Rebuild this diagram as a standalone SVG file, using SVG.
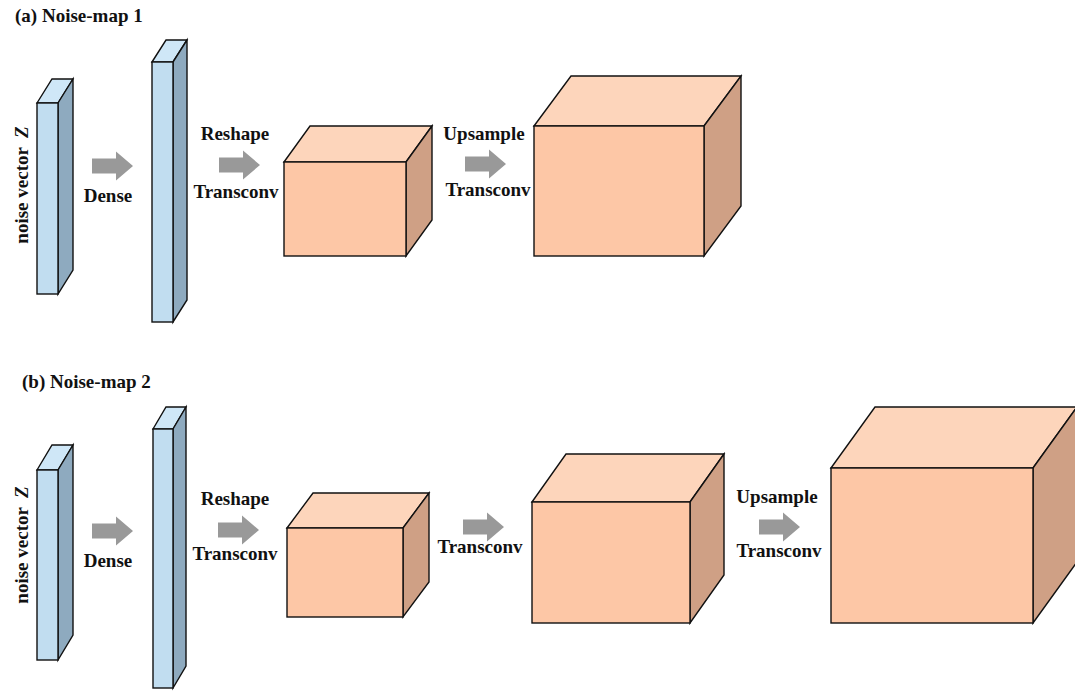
<svg xmlns="http://www.w3.org/2000/svg" xmlns:xlink="http://www.w3.org/1999/xlink" width="1075" height="691" viewBox="0 0 1075 691">
  <style>
    .lbl { font-family: "Liberation Serif", "Times New Roman", serif; font-weight: bold; font-size: 19px; fill: #111; }
    .mid { text-anchor: middle; }
    .edge { stroke: #111; stroke-width: 1.4; stroke-linejoin: miter; }
    .bar-front { fill: #c1ddf0; }
    .bar-top { fill: #cfe7f7; }
    .bar-side { fill: #8eaabf; }
    .box-front { fill: #fdc7a6; }
    .box-top { fill: #fdd5bb; }
    .box-side { fill: #cfa085; }
    .flow { fill: #999999; }
  </style>
  <defs>
    <!-- block arrow, origin at left end of the shaft centre line -->
    <path id="blockArrow" class="flow" d="M0,-7.5 H24 V-14.5 L41,0 L24,14.5 V7.5 H0 Z"/>
  </defs>
  <rect width="1075" height="691" fill="#ffffff"/>

  <!-- ===== (a) Noise-map 1 ===== -->
  <text class="lbl" x="15" y="22">(a) Noise-map 1</text>

  <g id="a-noise-vector">
    <polygon class="bar-top edge" points="37,103 52,79 73,79 58,103"/>
    <polygon class="bar-side edge" points="58,103 73,79 73,270 58,294"/>
    <rect class="bar-front edge" x="37" y="103" width="21" height="191"/>
    <text class="lbl mid" transform="translate(28,185) rotate(-90)" xml:space="preserve">noise vector  <tspan font-style="italic">Z</tspan></text>
  </g>

  <g id="a-dense-vector">
    <polygon class="bar-top edge" points="152,62 166,40 187,40 173,62"/>
    <polygon class="bar-side edge" points="173,62 187,40 187,300 173,322"/>
    <rect class="bar-front edge" x="152" y="62" width="21" height="260"/>
  </g>

  <g id="a-feature-map-1">
    <polygon class="box-top edge" points="284,162 310,126 432,126 406,162"/>
    <polygon class="box-side edge" points="406,162 432,126 432,220 406,256"/>
    <rect class="box-front edge" x="284" y="162" width="122" height="94"/>
  </g>

  <g id="a-feature-map-2">
    <polygon class="box-top edge" points="534,126 571,76 741,76 704,126"/>
    <polygon class="box-side edge" points="704,126 741,76 741,206 704,256"/>
    <rect class="box-front edge" x="534" y="126" width="170" height="130"/>
  </g>

  <g id="a-connectors">
    <use xlink:href="#blockArrow" transform="translate(92,166)"/>
    <text class="lbl mid" x="108" y="202">Dense</text>
    <use xlink:href="#blockArrow" transform="translate(219,165)"/>
    <text class="lbl mid" x="235" y="140">Reshape</text>
    <text class="lbl mid" x="236" y="198">Transconv</text>
    <use xlink:href="#blockArrow" transform="translate(465,164)"/>
    <text class="lbl mid" x="484" y="140">Upsample</text>
    <text class="lbl mid" x="488" y="196">Transconv</text>
  </g>

  <!-- ===== (b) Noise-map 2 ===== -->
  <text class="lbl" x="22" y="388">(b) Noise-map 2</text>

  <g id="b-noise-vector">
    <polygon class="bar-top edge" points="37,470 52,445 73,445 58,470"/>
    <polygon class="bar-side edge" points="58,470 73,445 73,635 58,660"/>
    <rect class="bar-front edge" x="37" y="470" width="21" height="190"/>
    <text class="lbl mid" transform="translate(28,545) rotate(-90)" xml:space="preserve">noise vector  <tspan font-style="italic">Z</tspan></text>
  </g>

  <g id="b-dense-vector">
    <polygon class="bar-top edge" points="153,429 166,407 186,407 173,429"/>
    <polygon class="bar-side edge" points="173,429 186,407 186,666 173,688"/>
    <rect class="bar-front edge" x="153" y="429" width="20" height="259"/>
  </g>

  <g id="b-feature-map-1">
    <polygon class="box-top edge" points="287,528 313,493 429,493 403,528"/>
    <polygon class="box-side edge" points="403,528 429,493 429,582 403,617"/>
    <rect class="box-front edge" x="287" y="528" width="116" height="89"/>
  </g>

  <g id="b-feature-map-2">
    <polygon class="box-top edge" points="532,502 566,454 724,454 690,502"/>
    <polygon class="box-side edge" points="690,502 724,454 724,575 690,623"/>
    <rect class="box-front edge" x="532" y="502" width="158" height="121"/>
  </g>

  <g id="b-feature-map-3">
    <polygon class="box-top edge" points="831,468 875,407 1077,407 1033,468"/>
    <polygon class="box-side edge" points="1033,468 1077,407 1077,562 1033,623"/>
    <rect class="box-front edge" x="831" y="468" width="202" height="155"/>
  </g>

  <g id="b-connectors">
    <use xlink:href="#blockArrow" transform="translate(92,531)"/>
    <text class="lbl mid" x="108" y="567">Dense</text>
    <use xlink:href="#blockArrow" transform="translate(218,530)"/>
    <text class="lbl mid" x="235" y="505">Reshape</text>
    <text class="lbl mid" x="235" y="560">Transconv</text>
    <use xlink:href="#blockArrow" transform="translate(463,527)"/>
    <text class="lbl mid" x="480" y="553">Transconv</text>
    <use xlink:href="#blockArrow" transform="translate(759,527)"/>
    <text class="lbl mid" x="777" y="503">Upsample</text>
    <text class="lbl mid" x="779" y="557">Transconv</text>
  </g>
</svg>
